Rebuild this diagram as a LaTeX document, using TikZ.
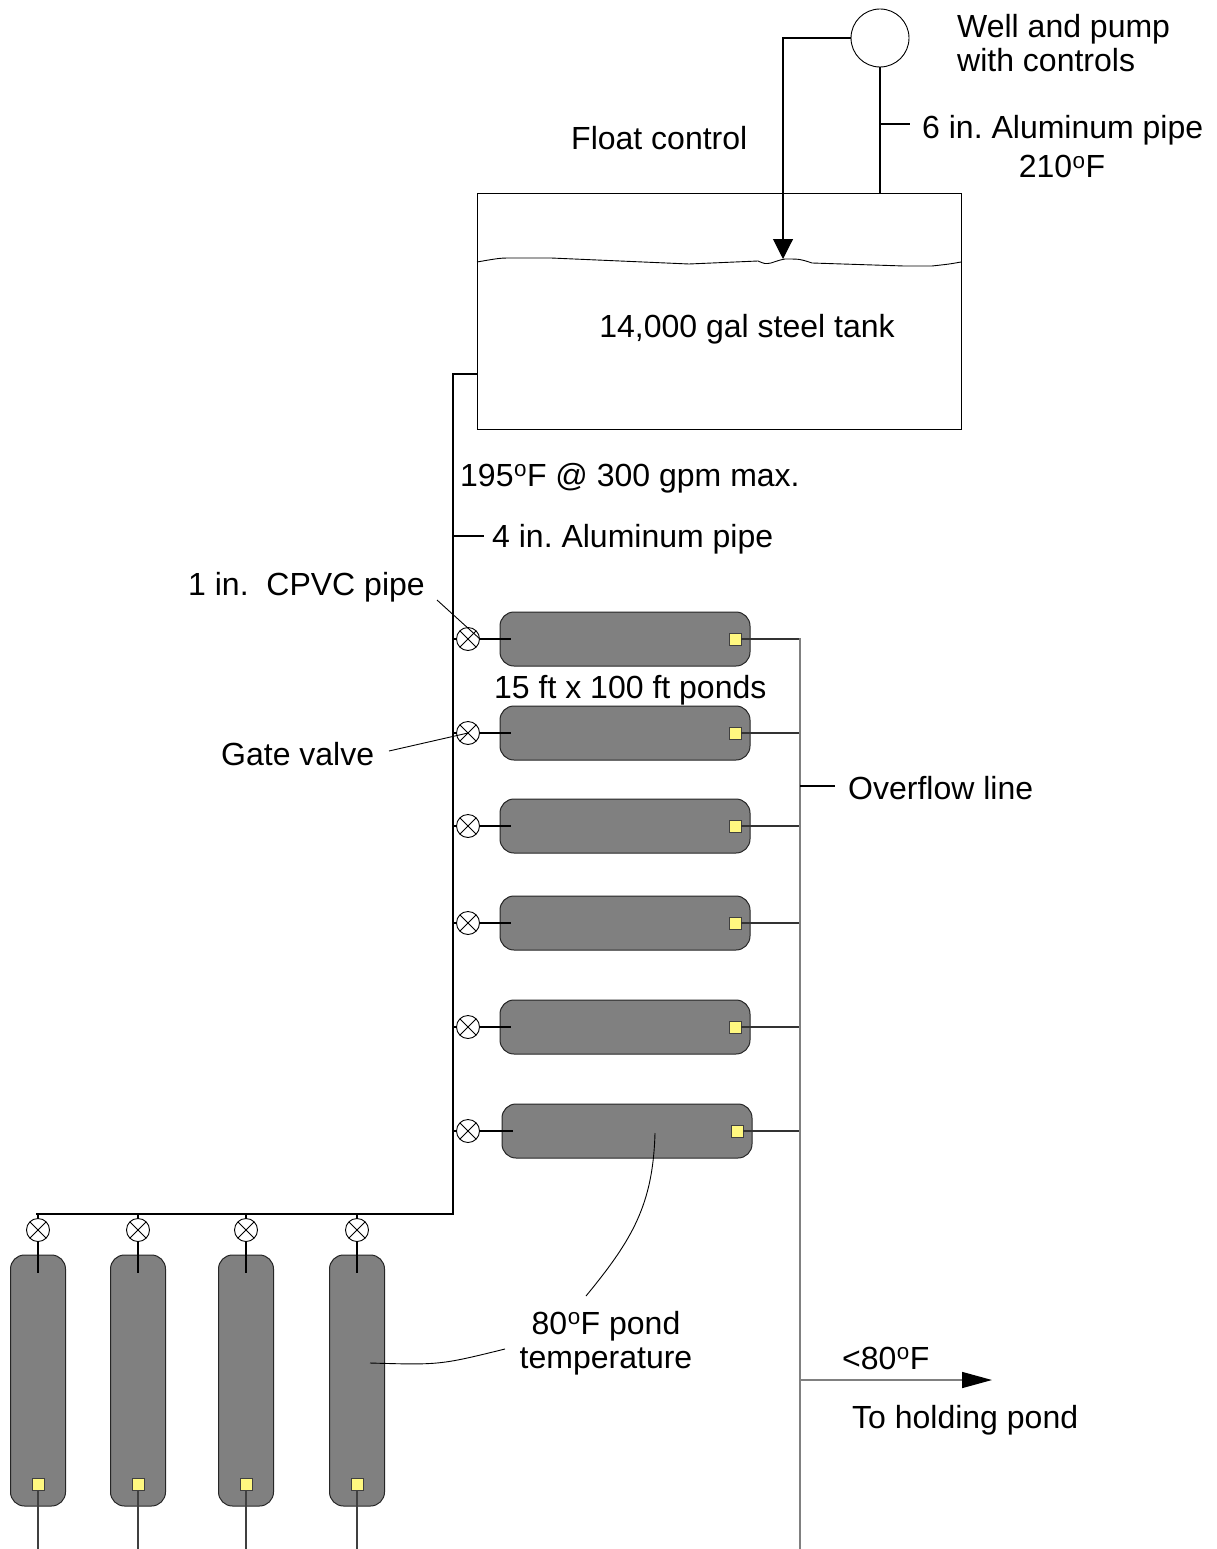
\documentclass[tikz,border=0pt]{standalone}
\usepackage{fontspec}
\setmainfont{Liberation Sans}
\usetikzlibrary{arrows.meta}
\frenchspacing
\newcommand{\degsym}{\textsuperscript{\kern0.5pt o}}
\begin{document}
\begin{tikzpicture}[x=1pt,y=-1pt,
  lbl/.style={anchor=base west, inner sep=0pt, font=\fontsize{32}{34}\selectfont},
  clbl/.style={anchor=base, inner sep=0pt, font=\fontsize{32}{34}\selectfont},
  hpond/.style={draw=black!85, fill=black!50, line width=1pt, rounded corners=14pt, minimum width=250pt, minimum height=54pt, inner sep=0pt},
  vpond/.style={draw=black!85, fill=black!50, line width=1pt, rounded corners=14pt, minimum width=55pt, minimum height=251pt, inner sep=0pt},
  sq/.style={draw=black!75, fill=yellow!50, line width=0.9pt, minimum size=12pt, inner sep=0pt},
  valve/.style={circle, draw, minimum size=23pt, inner sep=0pt, line width=0.9pt,
    path picture={\draw[line width=0.9pt] (path picture bounding box.north west)--(path picture bounding box.south east) (path picture bounding box.north east)--(path picture bounding box.south west);}},
  pipe/.style={line width=1.1pt, black},
  ovf/.style={line width=1.5pt, black!50},
  leader/.style={line width=0.9pt},
]
\useasboundingbox[fill=white] (0,0) rectangle (1217,1549);

% well and pump
\node[circle, draw, minimum size=58pt, inner sep=0pt, line width=0.9pt] (pump) at (880,38) {};
% tank
\node[draw, line width=1pt, minimum width=484pt, minimum height=235pt, inner sep=0pt] (tank) at (719,311.5) {};
% water surface
\draw[leader] (477,262) .. controls (500,258) .. (513,258) -- (551,258)
  .. controls (620,261) .. (689,264) -- (758,261) .. controls (765,264) .. (771,263)
  .. controls (780,260) .. (785,259) .. controls (800,259) .. (812,263)
  -- (904,266) -- (932,266) .. controls (950,264) .. (961,262);

% float control line
\coordinate (float) at (783,259);
\draw[pipe, -{Triangle[length=20pt,width=20pt]}] (pump.west) -| (float);
% pump to tank
\draw[pipe] (pump.south) -- (pump.south |- tank.north);
\coordinate (p6) at (880,124);
\draw[pipe] (p6) -- ++(30,0);

% tank outlet main pipe
\coordinate (out) at (477,374);
\coordinate (corner) at (453,1214);
\draw[pipe] (out) -- (453,374) -- (corner) -- (36,1214);
\coordinate (p4) at (453,536);
\draw[pipe] (p4) -- ++(31,0);

% horizontal ponds
\foreach \y/\x [count=\i] in {639/625,733/625,826/625,923/625,1027/625,1131/627}{
  \node[hpond] (hp\i) at (\x,\y) {};
  \node[valve] (hv\i) at (468,\y) {};
  \node[sq] (hs\i) at (\x+110,\y) {};
  \draw[pipe] (453,\y) -- (hv\i.west);
  \draw[pipe] (hv\i.east) -- ([xshift=11pt]hp\i.west);
  \draw[pipe, black!80] (hs\i.east) -- (800,\y);
}

% vertical ponds
\foreach \x [count=\i] in {38,138,246,357}{
  \node[vpond] (vp\i) at (\x,1380.5) {};
  \node[valve] (vv\i) at (\x,1230) {};
  \node[sq] (vs\i) at (\x,1484) {};
  \draw[pipe] (\x,1214) -- (vv\i.north);
  \draw[pipe] (vv\i.south) -- ([yshift=-18pt]vp\i.north);
  \draw[pipe, black!75] (vs\i.south) -- (\x,1549);
}

% overflow line
\draw[ovf] (800,638) -- (800,1549);
\coordinate (ov) at (800,786);
\draw[pipe] (ov) -- ++(35,0);
\coordinate (hold) at (992,1380);
\draw[ovf, -{Triangle[length=30pt,width=16pt,color=black,fill=black]}] (800,1380) -- (hold);

% leaders
\draw[leader] (437,600) -- (hv1.east);
\draw[leader] (389,751) -- (hv2.center);
\draw[leader] (655,1133) .. controls (653,1205) and (632,1240) .. (586,1296);
\draw[leader] (370,1363) .. controls (440,1365) .. (505,1349);

% labels
\node[lbl] (lwell) at (957,38) {Well and pump};
\node[lbl] (lwell2) at (957,72) {with controls};
\node[lbl] (l6in) at (922,139) {6 in. Aluminum pipe};
\node[clbl] (l210) at (1062,178) {210\degsym F};
\node[lbl] (lfloat) at (571,150) {Float control};
\node[clbl] (ltank) at (747,337) {14,000 gal steel tank};
\node[lbl] (l195) at (460,486) {195\degsym F @ 300 gpm max.};
\node[lbl] (l4in) at (492,547) {4 in. Aluminum pipe};
\node[lbl] (lcpvc) at (188,595) {1 in.\ \ CPVC pipe};
\node[lbl] (lponds) at (494,698) {15 ft x 100 ft ponds};
\node[lbl] (lgate) at (221,765) {Gate valve};
\node[lbl] (lovf) at (848,799) {Overflow line};
\node[clbl] (l80a) at (606,1334) {80\degsym F pond};
\node[clbl] (l80b) at (606,1368) {temperature};
\node[lbl] (llt80) at (842,1369) {<80\degsym F};
\node[lbl] (lhold) at (852,1428) {To holding pond};
\end{tikzpicture}
\end{document}
